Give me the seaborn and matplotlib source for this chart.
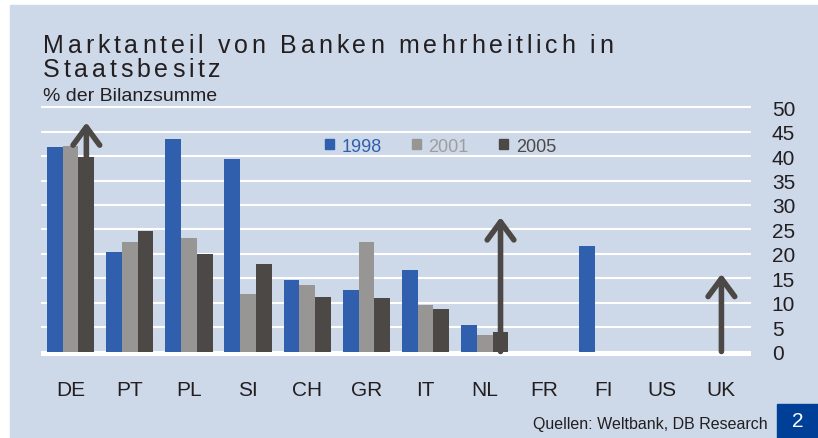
import numpy as np
import pandas as pd
import seaborn as sns
import matplotlib.pyplot as plt
from matplotlib.patches import Rectangle, Patch
from matplotlib.font_manager import FontProperties

# Data
countries = ["DE", "PT", "PL", "SI", "CH", "GR", "IT", "NL", "FR", "FI", "US", "UK"]
years = ["1998", "2001", "2005"]
share_1998 = [41.8, 20.4, 43.6, 39.4, 14.6, 12.6, 16.6, 5.4, np.nan, 21.6, np.nan, np.nan]
share_2001 = [42.1, 22.4, 23.2, 11.8, 13.7, 22.4, 9.5, 3.4, np.nan, np.nan, np.nan, np.nan]
share_2005 = [39.8, 24.7, 20.0, 17.9, 11.2, 10.9, 8.8, 4.0, np.nan, np.nan, np.nan, np.nan]

# Arrows (country, series the arrow sits on, start value, tip value)
arrow_cats = ["DE", "NL", "UK"]
arrow_series = ["2005", "2005", "2001"]
arrow_start = [39.8, 0.0, 0.0]
arrow_tip = [46.9, 27.5, 15.9]

df = pd.DataFrame({
    "Land": countries * 3,
    "Jahr": np.repeat(years, len(countries)),
    "Anteil": share_1998 + share_2001 + share_2005,
}).dropna()

# Styling
bg = "#cdd8e9"
colors = {"1998": "#3060ad", "2001": "#989694", "2005": "#4c4846"}
text_col = "#231f20"
sns.set_style("white")
plt.rcParams["font.family"] = ["Liberation Sans", "DejaVu Sans"]

W, H = 818, 439
fig = plt.figure(figsize=(W / 100, H / 100), dpi=100)
fig.patch.set_facecolor("white")
fig.patches.append(Rectangle((10 / W, 0), 1 - 10 / W, (H - 6) / H,
                             transform=fig.transFigure, color=bg, zorder=-5))

ax = fig.add_axes([41 / W, 1 - 357.4 / H, 710 / W, 254 / H])
ax.set_facecolor(bg)
ax.patch.set_alpha(0)

sns.barplot(data=df, x="Land", y="Anteil", hue="Jahr", order=countries,
            hue_order=years, palette=colors, saturation=1, errorbar=None,
            linewidth=0, ax=ax, legend=False)

ax.set_ylim(-1, 51)
ax.set_xlim(-0.5, len(countries) - 0.5)
ax.set_yticks(range(0, 51, 5))
ax.yaxis.tick_right()
ax.yaxis.grid(True, color="white", lw=1.5)
ax.set_axisbelow(True)
ax.axhline(-0.55, color="white", lw=4, zorder=0.5)
for s in ax.spines.values():
    s.set_visible(False)
ax.tick_params(axis="y", length=0, pad=15, labelsize=15, labelcolor=text_col)
ax.tick_params(axis="x", length=0, pad=17, labelsize=15, labelcolor=text_col)
ax.set_xlabel("")
ax.set_ylabel("")

# Arrows
bar_w = 0.8 / len(years)
for cat, ser, a0, a1 in zip(arrow_cats, arrow_series, arrow_start, arrow_tip):
    x = countries.index(cat) + (years.index(ser) - 1) * bar_w
    ax.annotate("", xy=(x, a1), xytext=(x, a0),
                arrowprops=dict(arrowstyle="->,head_length=0.65,head_width=0.48",
                                lw=4, color=colors["2005"], mutation_scale=20,
                                shrinkA=0, shrinkB=0))

# Legend
handles = [Patch(color=colors[y]) for y in years]
leg = ax.legend(handles, years, ncol=3, frameon=False, fontsize=13,
                loc="center left", bbox_to_anchor=(325 / W, 1 - 147 / H),
                bbox_transform=fig.transFigure, borderpad=0, borderaxespad=0,
                handlelength=0.5, handleheight=0.5, handletextpad=0.4,
                columnspacing=1.7)
for t, y in zip(leg.get_texts(), years):
    t.set_color(colors[y] if y != "2001" else "#a09e9c")


# Title with letter spacing
def tracked_text(x, y, s, size, track):
    r = fig.canvas.get_renderer()
    fp = FontProperties(family="Liberation Sans", size=size)
    bw = r.get_text_width_height_descent("|", fp, ismath=False)[0]
    for i, ch in enumerate(s):
        if ch == " ":
            continue
        w = r.get_text_width_height_descent(s[:i] + "|", fp, ismath=False)[0] - bw
        fig.text((x + w + i * track) / W, 1 - y / H, ch, fontproperties=fp,
                 color=text_col, va="baseline", ha="left")


tracked_text(43, 53.3, "Marktanteil von Banken mehrheitlich in", 18, 3.8)
tracked_text(43, 77, "Staatsbesitz", 18, 3.8)
fig.text(43 / W, 1 - 101 / H, "% der Bilanzsumme", fontsize=14,
         color=text_col, va="baseline")

# Footer
fig.text(533 / W, 1 - 429 / H, "Quellen: Weltbank, DB Research", fontsize=11.5,
         color=text_col, va="baseline")
fig.patches.append(Rectangle((777 / W, 0), 41 / W, 34 / H,
                             transform=fig.transFigure, color="#003f98", zorder=1))
fig.text(797.5 / W, 1 - 422 / H, "2", fontsize=15, color="white",
         ha="center", va="center")

fig.savefig("out.png", dpi=100, facecolor=fig.get_facecolor())
plt.close(fig)
